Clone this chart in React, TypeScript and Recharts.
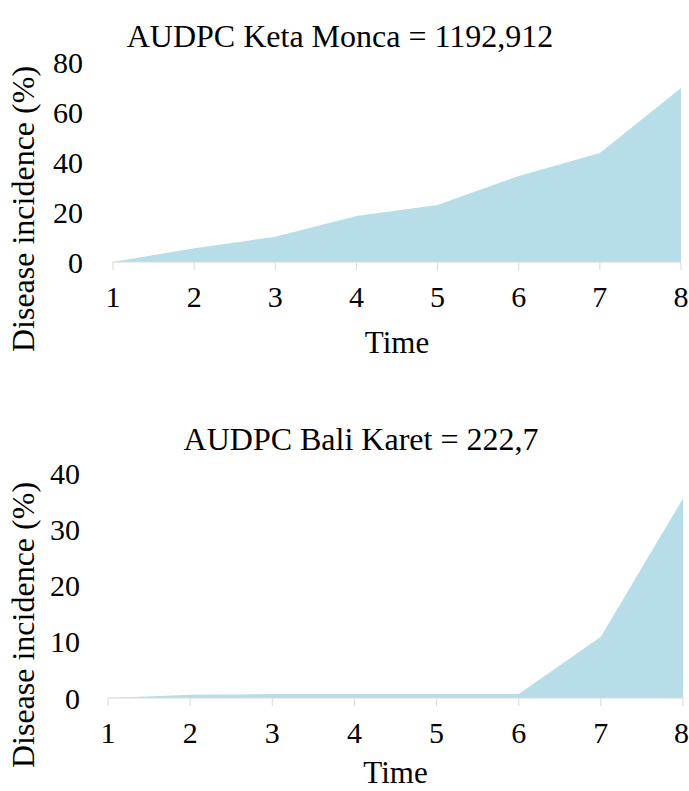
import { AreaChart, Area, XAxis, YAxis, Label } from 'recharts';

// valores
const times = [1, 2, 3, 4, 5, 6, 7, 8];
const ketaMoncaIncidence = [0, 5.5, 10.1, 18.4, 22.8, 34.4, 43.6, 69.6];
const baliKaretIncidence = [0, 0.6, 0.7, 0.7, 0.7, 0.7, 10.9, 35.5];
const ketaMoncaTicks = [0, 20, 40, 60, 80];
const baliKaretTicks = [0, 10, 20, 30, 40];

const ketaMoncaTitle = "AUDPC Keta Monca = 1192,912";
const baliKaretTitle = "AUDPC Bali Karet = 222,7";

const FONT = '"Liberation Serif", "Times New Roman", serif';
const AXIS_GRAY = "#d9d9d9";
const FILL = "#B7DEE8";

type PanelProps = {
  title: string;
  values: number[];
  yTicks: number[];
  top: number;
  height: number;
  titleX: number;
  titleTop: number;
  marginTop: number;
  yAxisWidth: number;
  marginRight: number;
  tickMargin: number;
  xAxisHeight: number;
  marginBottom: number;
  yLabelY: number;
  timeOffset: number;
};

function Panel(p: PanelProps) {
  const data = times.map((t, i) => ({ time: t, incidence: p.values[i] }));
  return (
    <div style={{ position: "absolute", left: 0, top: p.top, width: 689, height: p.height }}>
      <div
        style={{
          position: "absolute",
          left: p.titleX,
          top: p.titleTop,
          transform: "translateX(-50%)",
          whiteSpace: "nowrap",
          fontFamily: FONT,
          fontSize: 32,
          lineHeight: "32px",
          color: "#000",
        }}
      >
        {p.title}
      </div>
      <AreaChart
        width={689}
        height={p.height}
        data={data}
        margin={{ top: p.marginTop, right: p.marginRight, left: 0, bottom: p.marginBottom }}
      >
        <XAxis
          dataKey="time"
          type="number"
          domain={[1, 8]}
          ticks={times}
          stroke={AXIS_GRAY}
          tickSize={8}
          tickMargin={16}
          height={p.xAxisHeight}
          tick={{ fontFamily: FONT, fontSize: 30, fill: "#000" }}
        >
          <Label
            content={(props: any) => {
              const vb = props.viewBox;
              return (
                <text
                  x={vb.x + vb.width / 2}
                  y={vb.y + p.timeOffset}
                  textAnchor="middle"
                  fontFamily={FONT}
                  fontSize={31}
                  fill="#000"
                >
                  Time
                </text>
              );
            }}
          />
        </XAxis>
        <YAxis
          domain={[0, p.yTicks[p.yTicks.length - 1]]}
          ticks={p.yTicks}
          width={p.yAxisWidth}
          axisLine={false}
          tickLine={false}
          tickSize={0}
          tickMargin={p.tickMargin}
          tick={{ fontFamily: FONT, fontSize: 30, fill: "#000" }}
        >
          <Label
            content={() => (
              <text
                x={34}
                y={p.yLabelY}
                transform={`rotate(-90, 34, ${p.yLabelY})`}
                textAnchor="middle"
                fontFamily={FONT}
                fontSize={32}
                fill="#000"
              >
                Disease incidence (%)
              </text>
            )}
          />
        </YAxis>
        <Area
          type="linear"
          dataKey="incidence"
          stroke="none"
          fill={FILL}
          fillOpacity={1}
          isAnimationActive={false}
        />
      </AreaChart>
    </div>
  );
}

export default function App() {
  return (
    <div style={{ position: "absolute", left: 0, top: 0, width: 689, height: 791, background: "#fff" }}>
      <Panel
        title={ketaMoncaTitle}
        values={ketaMoncaIncidence}
        yTicks={ketaMoncaTicks}
        top={0}
        height={400}
        titleX={340}
        titleTop={20}
        marginTop={62}
        yAxisWidth={113}
        marginRight={8}
        tickMargin={30}
        xAxisHeight={100}
        marginBottom={38}
        yLabelY={209}
        timeOffset={91}
      />
      <Panel
        title={baliKaretTitle}
        values={baliKaretIncidence}
        yTicks={baliKaretTicks}
        top={400}
        height={391}
        titleX={361}
        titleTop={23}
        marginTop={73}
        yAxisWidth={108}
        marginRight={6}
        tickMargin={28}
        xAxisHeight={93}
        marginBottom={0}
        yLabelY={225}
        timeOffset={85}
      />
    </div>
  );
}
